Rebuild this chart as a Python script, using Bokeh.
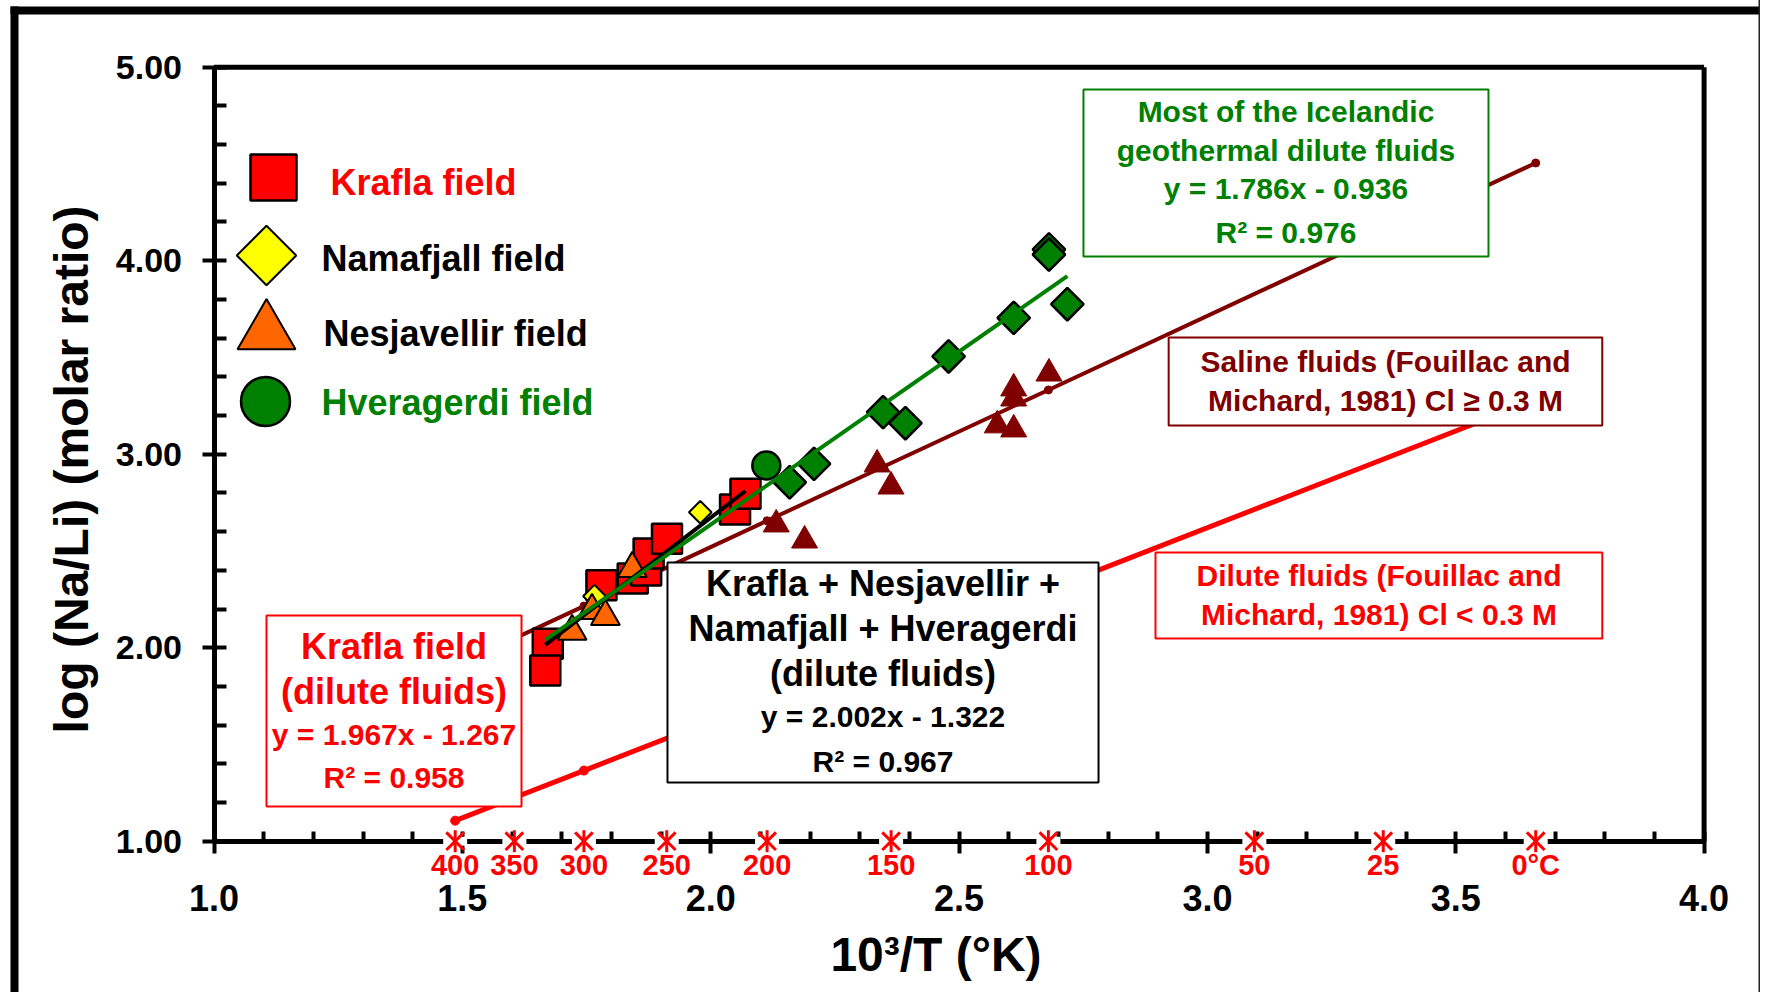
import numpy as np
from bokeh.plotting import figure
from bokeh.models import Range1d, FixedTicker, CustomJSTickFormatter
from bokeh.core.properties import value
from bokeh.embed import file_html
from bokeh.resources import INLINE

# ---------------- data ----------------
x_ticks = [1.0, 1.5, 2.0, 2.5, 3.0, 3.5, 4.0]
x_tick_labels = ["1.0", "1.5", "2.0", "2.5", "3.0", "3.5", "4.0"]
x_minor_ticks = [1.1, 1.2, 1.3, 1.4, 1.6, 1.7, 1.8, 1.9, 2.1, 2.2, 2.3, 2.4,
                 2.6, 2.7, 2.8, 2.9, 3.1, 3.2, 3.3, 3.4, 3.6, 3.7, 3.8, 3.9]
y_ticks = [1.0, 2.0, 3.0, 4.0, 5.0]
y_tick_labels = ["1.00", "2.00", "3.00", "4.00", "5.00"]
y_minor_ticks = [1.2, 1.4, 1.6, 1.8, 2.2, 2.4, 2.6, 2.8, 3.2, 3.4, 3.6, 3.8,
                 4.2, 4.4, 4.6, 4.8]

temperature_c = [400, 350, 300, 250, 200, 150, 100, 50, 25, 0]
temperature_labels = ["400", "350", "300", "250", "200", "150", "100", "50", "25", "0°C"]

krafla_x = [1.672, 1.667, 1.780, 1.843, 1.870, 1.875, 1.912, 2.049, 2.070]
krafla_y = [2.020, 1.882, 2.323, 2.358, 2.399, 2.487, 2.563, 2.714, 2.795]
namafjall_x = [1.766, 1.979]
namafjall_y = [2.266, 2.700]
nesjavellir_x = [1.721, 1.761, 1.788, 1.842]
nesjavellir_y = [2.084, 2.192, 2.161, 2.409]
hveragerdi_x = [2.112]
hveragerdi_y = [2.942]
iceland_x = [2.159, 2.208, 2.347, 2.392, 2.479, 2.610, 2.681, 2.681, 2.718]
iceland_y = [2.855, 2.950, 3.217, 3.160, 3.505, 3.705, 4.058, 4.032, 3.775]
saline_x = [2.132, 2.189, 2.335, 2.363, 2.577, 2.610, 2.610, 2.610, 2.681]
saline_y = [2.637, 2.554, 2.947, 2.833, 3.149, 3.340, 3.288, 3.128, 3.417]

fm_temperature_c = [400, 300, 200, 100, 0]
fm_saline_y = [1.905, 2.215, 2.656, 3.332, 4.505]
fm_dilute_y = [1.106, 1.365, 1.734, 2.300, 3.281]

fit_all_x = [1.667, 2.070]
fit_all_y = [2.015, 2.810]
fit_iceland_x = [1.667, 2.718]
fit_iceland_y = [2.041, 3.920]

# ---------------- figure ----------------
FONT = "Liberation Sans"
p = figure(width=1760, height=992, output_backend="svg", toolbar_location=None,
           x_range=Range1d(0.57016, 4.11355), y_range=Range1d(0.21809, 5.34470),
           min_border_left=0, min_border_right=0, min_border_top=0, min_border_bottom=0)
p.outline_line_color = None
p.xgrid.visible = False
p.ygrid.visible = False
p.background_fill_color = "white"
p.border_fill_color = "white"

def fmt(vals, labs):
    return CustomJSTickFormatter(args=dict(vals=vals, labs=labs), code="""
        for (let i = 0; i < vals.length; i++) {
            if (Math.abs(vals[i] - tick) < 1e-6) { return labs[i]; }
        }
        return "";
    """)

xa = p.xaxis[0]
xa.fixed_location = 1.0
xa.bounds = (1.0, 4.0)
xa.ticker = FixedTicker(ticks=x_ticks, minor_ticks=x_minor_ticks)
xa.formatter = fmt(x_ticks, x_tick_labels)
xa.axis_line_width = 5
xa.axis_line_color = "black"
xa.major_tick_in = 10
xa.major_tick_out = 12
xa.minor_tick_in = 10
xa.minor_tick_out = 0
xa.major_tick_line_width = 4
xa.minor_tick_line_width = 4
xa.major_label_text_font = FONT
xa.major_label_text_font_style = "bold"
xa.major_label_text_font_size = "36px"
xa.major_label_text_color = "black"
xa.major_label_standoff = 32

ya = p.yaxis[0]
ya.fixed_location = 1.0
ya.bounds = (1.0, 5.0)
ya.ticker = FixedTicker(ticks=y_ticks, minor_ticks=y_minor_ticks)
ya.formatter = fmt(y_ticks, y_tick_labels)
ya.axis_line_width = 5
ya.axis_line_color = "black"
ya.major_tick_in = 12
ya.major_tick_out = 12
ya.minor_tick_in = 12
ya.minor_tick_out = 0
ya.major_tick_line_width = 4
ya.minor_tick_line_width = 4
ya.major_label_text_font = FONT
ya.major_label_text_font_style = "bold"
ya.major_label_text_font_size = "34px"
ya.major_label_text_color = "black"
ya.major_label_standoff = 20

# frame top and right lines
p.line([1.0, 4.0], [5.0, 5.0], line_color="black", line_width=5)
p.line([4.0, 4.0], [1.0, 5.0], line_color="black", line_width=5)

# Fouillac & Michard reference lines
fm_x = [1000.0 / (t + 273.15) for t in fm_temperature_c]
p.line(fm_x, fm_saline_y, line_color="#800000", line_width=4)
p.scatter(fm_x, fm_saline_y, marker="circle", size=8, fill_color="#800000", line_color="#800000")
p.line(fm_x, fm_dilute_y, line_color="#ff0000", line_width=5)
p.scatter(fm_x, fm_dilute_y, marker="circle", size=9, fill_color="#ff0000", line_color="#ff0000")

# ---------------- boxes ----------------
def box(l, r, t, b, color):
    p.quad(left=[l], right=[r], top=[t], bottom=[b], fill_color="white",
           line_color=color, line_width=2)

def lines(xc, ys, texts, sizes, color):
    for yy, tt, ss in zip(ys, texts, sizes):
        p.text(x=[xc], y=[yy], text=[tt], text_font=value(FONT), text_font_style="bold",
               text_font_size=ss, text_color=color, text_align="center",
               text_baseline="middle")

box(2.7505, 3.5659, 4.8848, 4.0217, "#008000")
lines(3.1582, [4.769, 4.571, 4.373, 4.146],
      ["Most of the Icelandic", "geothermal dilute fluids", "y = 1.786x - 0.936", "R² = 0.976"],
      ["30px"] * 4, "#008000")

box(2.922, 3.795, 3.603, 3.148, "#800000")
lines(3.3586, [3.477, 3.280],
      ["Saline fluids (Fouillac and", "Michard, 1981) Cl ≥ 0.3 M"],
      ["30px"] * 2, "#800000")

box(2.8955, 3.795, 2.492, 2.0475, "#ff0000")
lines(3.3455, [2.372, 2.174],
      ["Dilute fluids (Fouillac and", "Michard, 1981) Cl < 0.3 M"],
      ["30px"] * 2, "#ff0000")

box(1.1057, 1.6191, 2.1664, 1.1793, "#ff0000")
lines(1.3624, [2.006, 1.774, 1.551, 1.329],
      ["Krafla field", "(dilute fluids)", "y = 1.967x - 1.267", "R² = 0.958"],
      ["36px", "36px", "30px", "30px"], "#ff0000")

box(1.9130, 2.7808, 2.4403, 1.3034, "black")
lines(2.3469, [2.3318, 2.0992, 1.8667, 1.6444, 1.4119],
      ["Krafla + Nesjavellir +", "Namafjall + Hveragerdi", "(dilute fluids)",
       "y = 2.002x - 1.322", "R² = 0.967"],
      ["36px", "36px", "36px", "30px", "30px"], "black")

# ---------------- data markers ----------------
p.scatter(krafla_x, krafla_y, marker="square", size=30, fill_color="#ff0000",
          line_color="black", line_width=2.5)
p.scatter(namafjall_x, namafjall_y, marker="square", angle=np.pi / 4, size=16,
          fill_color="#ffff00", line_color="black", line_width=2)
p.scatter(nesjavellir_x, nesjavellir_y, marker="triangle", size=29, fill_color="#ff6600",
          line_color="black", line_width=2)
p.scatter(saline_x, saline_y, marker="triangle", size=26, fill_color="#800000",
          line_color="#800000", line_width=1)
p.scatter(hveragerdi_x, hveragerdi_y, marker="circle", size=28, fill_color="#008000",
          line_color="black", line_width=2.5)
p.scatter(iceland_x, iceland_y, marker="square", angle=np.pi / 4, size=23,
          fill_color="#008000", line_color="black", line_width=2.5)

p.line(fit_all_x, fit_all_y, line_color="black", line_width=4)
p.line(fit_iceland_x, fit_iceland_y, line_color="#008000", line_width=4)

# ---------------- legend ----------------
p.scatter([1.1198], [4.430], marker="square", size=46, fill_color="#ff0000",
          line_color="black", line_width=2.5)
p.scatter([1.1057], [4.027], marker="square", angle=np.pi / 4, size=42,
          fill_color="#ffff00", line_color="black", line_width=2)
p.scatter([1.1057], [3.629], marker="triangle", size=58, fill_color="#ff6600",
          line_color="black", line_width=2)
p.scatter([1.1037], [3.272], marker="circle", size=49, fill_color="#008000",
          line_color="black", line_width=2.5)
for xx, yy, tt, cc in [(1.2345, 4.404, "Krafla field", "#ff0000"),
                       (1.2164, 4.012, "Namafjall field", "black"),
                       (1.2205, 3.624, "Nesjavellir field", "black"),
                       (1.2164, 3.267, "Hveragerdi field", "#008000")]:
    p.text(x=[xx], y=[yy], text=[tt], text_font=value(FONT), text_font_style="bold",
           text_font_size="36px", text_color=cc, text_align="left", text_baseline="middle")

# ---------------- temperature marks on the x axis ----------------
temp_x = [1000.0 / (t + 273.15) for t in temperature_c]
ones = [1.0] * len(temp_x)
p.rect(temp_x, ones, width=24, height=9, width_units="screen",
       height_units="screen", fill_color="white", line_color=None, level="overlay")
p.scatter(temp_x, ones, marker="x", size=25, line_color="#ff0000",
          line_width=3, level="overlay")
p.scatter(temp_x, ones, marker="dash", angle=np.pi / 2, size=22, line_color="#ff0000",
          line_width=3, level="overlay")
p.text(x=temp_x, y=[0.8760] * len(temp_x), text=temperature_labels, text_font=value(FONT),
       text_font_style="bold", text_font_size="29px", text_color="#ff0000",
       text_align="center", text_baseline="middle", level="overlay")

# ---------------- axis titles ----------------
p.text(x=[2.4536], y=[0.4170], text=["10³/T (°K)"], text_font=value(FONT),
       text_font_style="bold", text_font_size="48px", text_color="black",
       text_align="center", text_baseline="middle")
p.text(x=[0.7130], y=[2.9214], text=["log (Na/Li) (molar ratio)"], text_font=value(FONT),
       text_font_style="bold", text_font_size="48px", text_color="black",
       text_align="center", text_baseline="middle", angle=np.pi / 2)

# ---------------- outer picture border ----------------
p.quad(left=[0.5903], right=[4.2], top=[5.3137], bottom=[5.2724],
       fill_color="black", line_color=None, level="overlay")
p.quad(left=[0.5903], right=[0.6064], top=[5.3137], bottom=[0.1],
       fill_color="black", line_color=None, level="overlay")
p.quad(left=[4.1095], right=[4.1135], top=[5.4], bottom=[0.1],
       fill_color="#222222", line_color=None, level="overlay")

open("out.html", "w").write(file_html(p, INLINE))
